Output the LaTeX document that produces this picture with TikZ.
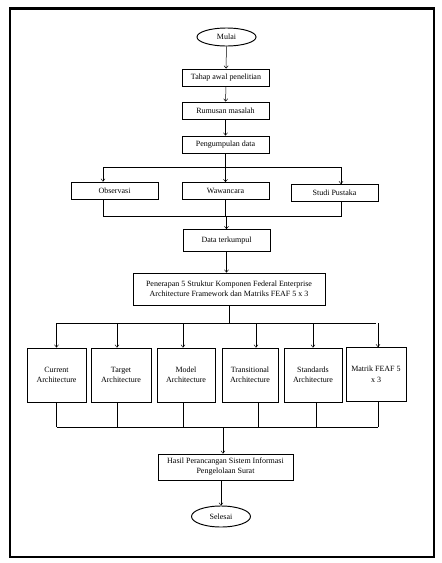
\documentclass[tikz,border=0pt]{standalone}
\usepackage{fontspec}
\setmainfont{Liberation Serif}
\usetikzlibrary{arrows.meta,shapes.geometric,calc}
\begin{document}
\begin{tikzpicture}[x=1pt,y=-1pt,
  box/.style={draw,line width=0.95pt,minimum width=#1,minimum height=17pt,inner sep=1pt,align=center,font=\fontsize{8}{10}\selectfont},
  box/.default=87pt,
  term/.style={draw,ellipse,line width=0.95pt,minimum width=59pt,inner sep=0pt,font=\fontsize{8}{10}\selectfont},
  arch/.style={draw,line width=0.95pt,minimum height=54pt,inner sep=1pt,align=center,font=\fontsize{8}{10.5}\selectfont},
  ln/.style={line width=0.5pt},
  arr/.style={line width=0.5pt,-{To[length=3pt,width=4.5pt]}}]
\useasboundingbox (0,0) rectangle (442,563);
\draw[line width=2.6pt] (10,8.5) rectangle (434,557);
% nodes
\node[term,minimum height=18pt] (mulai) at (226.5,37) {Mulai};
\node[box] (tahap) at (226,77.5) {Tahap awal penelitian};
\node[box] (rumusan) at (225.5,110.5) {Rumusan masalah};
\node[box] (kumpul) at (225.5,144.5) {Pengumpulan data};
\node[box] (obs) at (114.5,190.5) {Observasi};
\node[box] (waw) at (225.5,191) {Wawancara};
\node[box] (studi) at (334.5,193) {Studi Pustaka};
\node[box,minimum height=22pt] (data) at (226.5,240.5) {Data terkumpul};
\node[box=192pt,minimum height=32pt] (pen) at (229,289) {Penerapan 5 Struktur Komponen Federal Enterprise\\Architecture Framework dan Matriks FEAF 5 x 3};
\node[arch,minimum width=59pt] (cur) at (56.5,375) {Current\\Architecture};
\node[arch,minimum width=60pt] (tar) at (121,375) {Target\\Architecture};
\node[arch,minimum width=58pt] (mod) at (186,375) {Model\\Architecture};
\node[arch,minimum width=56pt] (tra) at (250,375) {Transitional\\Architecture};
\node[arch,minimum width=58pt] (sta) at (313,375) {Standards\\Architecture};
\node[arch,minimum width=60pt] (mat) at (376,374.5) {Matrik FEAF 5\\x 3};
\node[box=135pt,minimum height=26pt] (hasil) at (225.5,467) {Hasil Perancangan Sistem Informasi\\Pengelolaan Surat};
\node[term,minimum height=21pt] (selesai) at (221,516.5) {Selesai};
% coordinates
\coordinate (b1) at (225.5,167);
\coordinate (b1l) at (103,167);
\coordinate (b1r) at (341,167);
\coordinate (j1) at (225.5,216);
\coordinate (j1l) at (103,216);
\coordinate (j1r) at (341,216);
\coordinate (b2) at (229,323);
\coordinate (j2) at (223,427);
% connectors
\draw[arr] (mulai) -- (tahap);
\draw[arr] (tahap) -- (rumusan);
\draw[arr] (rumusan) -- (kumpul);
\draw[ln] (kumpul) -- (b1);
\draw[ln] (b1l) -- (b1r);
\draw[arr] (b1l) -- (b1l |- obs.north);
\draw[arr] (b1) -- (waw);
\draw[arr] (b1r) -- (b1r |- studi.north);
\draw[ln] (j1l |- obs.south) -- (j1l) -- (j1r) -- (j1r |- studi.south);
\draw[ln] (waw) -- (j1);
\draw[arr] (j1) -- (j1 -| data.north) -- (data);
\draw[arr] (data) -- (pen.north -| data);
\draw[ln] (pen) -- (b2);
\draw[ln] (b2 -| cur) -- (b2 -| mat);
\draw[arr] (b2 -| cur) -- (cur);
\draw[arr] ($(b2 -| tar)+(-4,0)$) -- ($(tar.north)+(-4,0)$);
\draw[arr] ($(b2 -| mod)+(-3,0)$) -- ($(mod.north)+(-3,0)$);
\draw[arr] ($(b2 -| tra)+(6,0)$) -- ($(tra.north)+(6,0)$);
\draw[arr] (b2 -| sta) -- (sta);
\draw[arr] ($(b2 -| mat)+(2,0)$) -- ($(mat.north)+(2,0)$);
\draw[ln] (cur) -- (j2 -| cur);
\draw[ln] ($(tar.south)+(-4,0)$) -- ($(j2 -| tar)+(-4,0)$);
\draw[ln] ($(mod.south)+(-3,0)$) -- ($(j2 -| mod)+(-3,0)$);
\draw[ln] ($(tra.south)+(8,0)$) -- ($(j2 -| tra)+(8,0)$);
\draw[ln] ($(sta.south)+(3,0)$) -- ($(j2 -| sta)+(3,0)$);
\draw[ln] ($(mat.south)+(2,0)$) -- ($(j2 -| mat)+(2,0)$);
\draw[ln] (j2 -| cur) -- ($(j2 -| mat)+(2,0)$);
\draw[arr] (j2) -- (j2 |- hasil.north);
\draw[arr] (hasil.south -| selesai) -- (selesai);
\end{tikzpicture}
\end{document}
